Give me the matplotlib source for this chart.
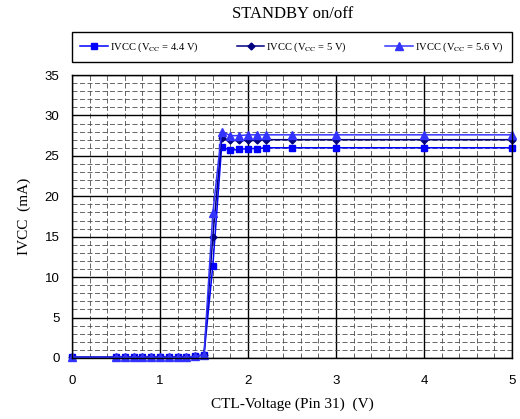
import matplotlib
matplotlib.use('Agg')
import matplotlib.pyplot as plt
from matplotlib.ticker import MultipleLocator

plt.rcParams['font.family'] = 'Liberation Serif'
plt.rcParams['mathtext.fontset'] = 'stix'

# CTL voltage (V)
volts = [0, 0.5, 0.6, 0.7, 0.8, 0.9, 1.0, 1.1, 1.2, 1.3, 1.4, 1.5,
         1.6, 1.7, 1.8, 1.9, 2.0, 2.1, 2.2, 2.5, 3, 4, 5]
# IVCC (mA)
i_44 = [0.1, 0.1, 0.1, 0.1, 0.1, 0.1, 0.1, 0.1, 0.1, 0.1, 0.2, 0.4,
        11.4, 26.1, 25.7, 25.8, 25.9, 25.9, 26.0, 26.0, 26.0, 26.0, 26.0]
i_50 = [0.1, 0.1, 0.1, 0.1, 0.1, 0.1, 0.1, 0.1, 0.1, 0.1, 0.2, 0.4,
        15.0, 27.2, 26.9, 26.9, 26.9, 26.9, 27.0, 27.0, 27.0, 27.0, 27.0]
i_56 = [0.1, 0.1, 0.1, 0.1, 0.1, 0.1, 0.1, 0.1, 0.1, 0.1, 0.2, 0.4,
        17.9, 28.0, 27.5, 27.5, 27.6, 27.6, 27.6, 27.6, 27.6, 27.6, 27.6]
labels = [r'IVCC (V$_{\mathrm{CC}}$ = 4.4 V)',
          r'IVCC (V$_{\mathrm{CC}}$ = 5 V)',
          r'IVCC (V$_{\mathrm{CC}}$ = 5.6 V)']

fig = plt.figure(figsize=(5.2, 4.19), dpi=100)
ax = fig.add_axes([0.1385, 0.1456, 0.8461, 0.6754])

# grid first so data sits on top
ax.set_xlim(0, 5)
ax.set_ylim(0, 35)
ax.xaxis.set_major_locator(MultipleLocator(1))
ax.xaxis.set_minor_locator(MultipleLocator(0.2))
ax.yaxis.set_major_locator(MultipleLocator(5))
ax.yaxis.set_minor_locator(MultipleLocator(1))
ax.grid(which='major', color='black', lw=1, ls='-')
ax.grid(which='minor', color='0.3', lw=0.6, ls=(0, (6, 3)))
ax.set_axisbelow(True)

l1, = ax.plot(volts, i_44, color='#0000FF', lw=1.1, marker='s', ms=5)
l2, = ax.plot(volts, i_50, color='#000080', lw=1.1, marker='D', ms=3.5)
l3, = ax.plot(volts, i_56, color='#3333FF', lw=1.1, marker='^', ms=5.5)
for l in (l1, l2, l3):
    l.set_clip_on(False)

for s in ax.spines.values():
    s.set_color('black')
    s.set_linewidth(1)

ax.tick_params(which='both', length=0)
ax.tick_params(axis='x', pad=12)
ax.tick_params(axis='y', pad=9)
for t in ax.get_xticklabels() + ax.get_yticklabels():
    t.set_fontfamily('Liberation Sans')
    t.set_fontsize(9.5)

ax.set_xlabel('CTL-Voltage (Pin 31)  (V)', fontsize=11, labelpad=8)
ax.set_ylabel('IVCC  (mA)', fontsize=11, labelpad=10)

fig.text(0.562, 1 - 14 / 419, 'STANDBY on/off', fontsize=12,
         ha='center', va='center')

leg = fig.legend([l1, l2, l3], labels, ncol=3, mode='expand',
                 loc='lower left',
                 bbox_to_anchor=(0.1385, 1 - 62 / 419, 0.8461, 29 / 419),
                 fontsize=7.6, fancybox=False, edgecolor='black',
                 framealpha=1, handlelength=2.6, handletextpad=0.2,
                 borderaxespad=0, borderpad=0.8)
leg.get_frame().set_linewidth(1)

fig.savefig('out.png', dpi=100)
